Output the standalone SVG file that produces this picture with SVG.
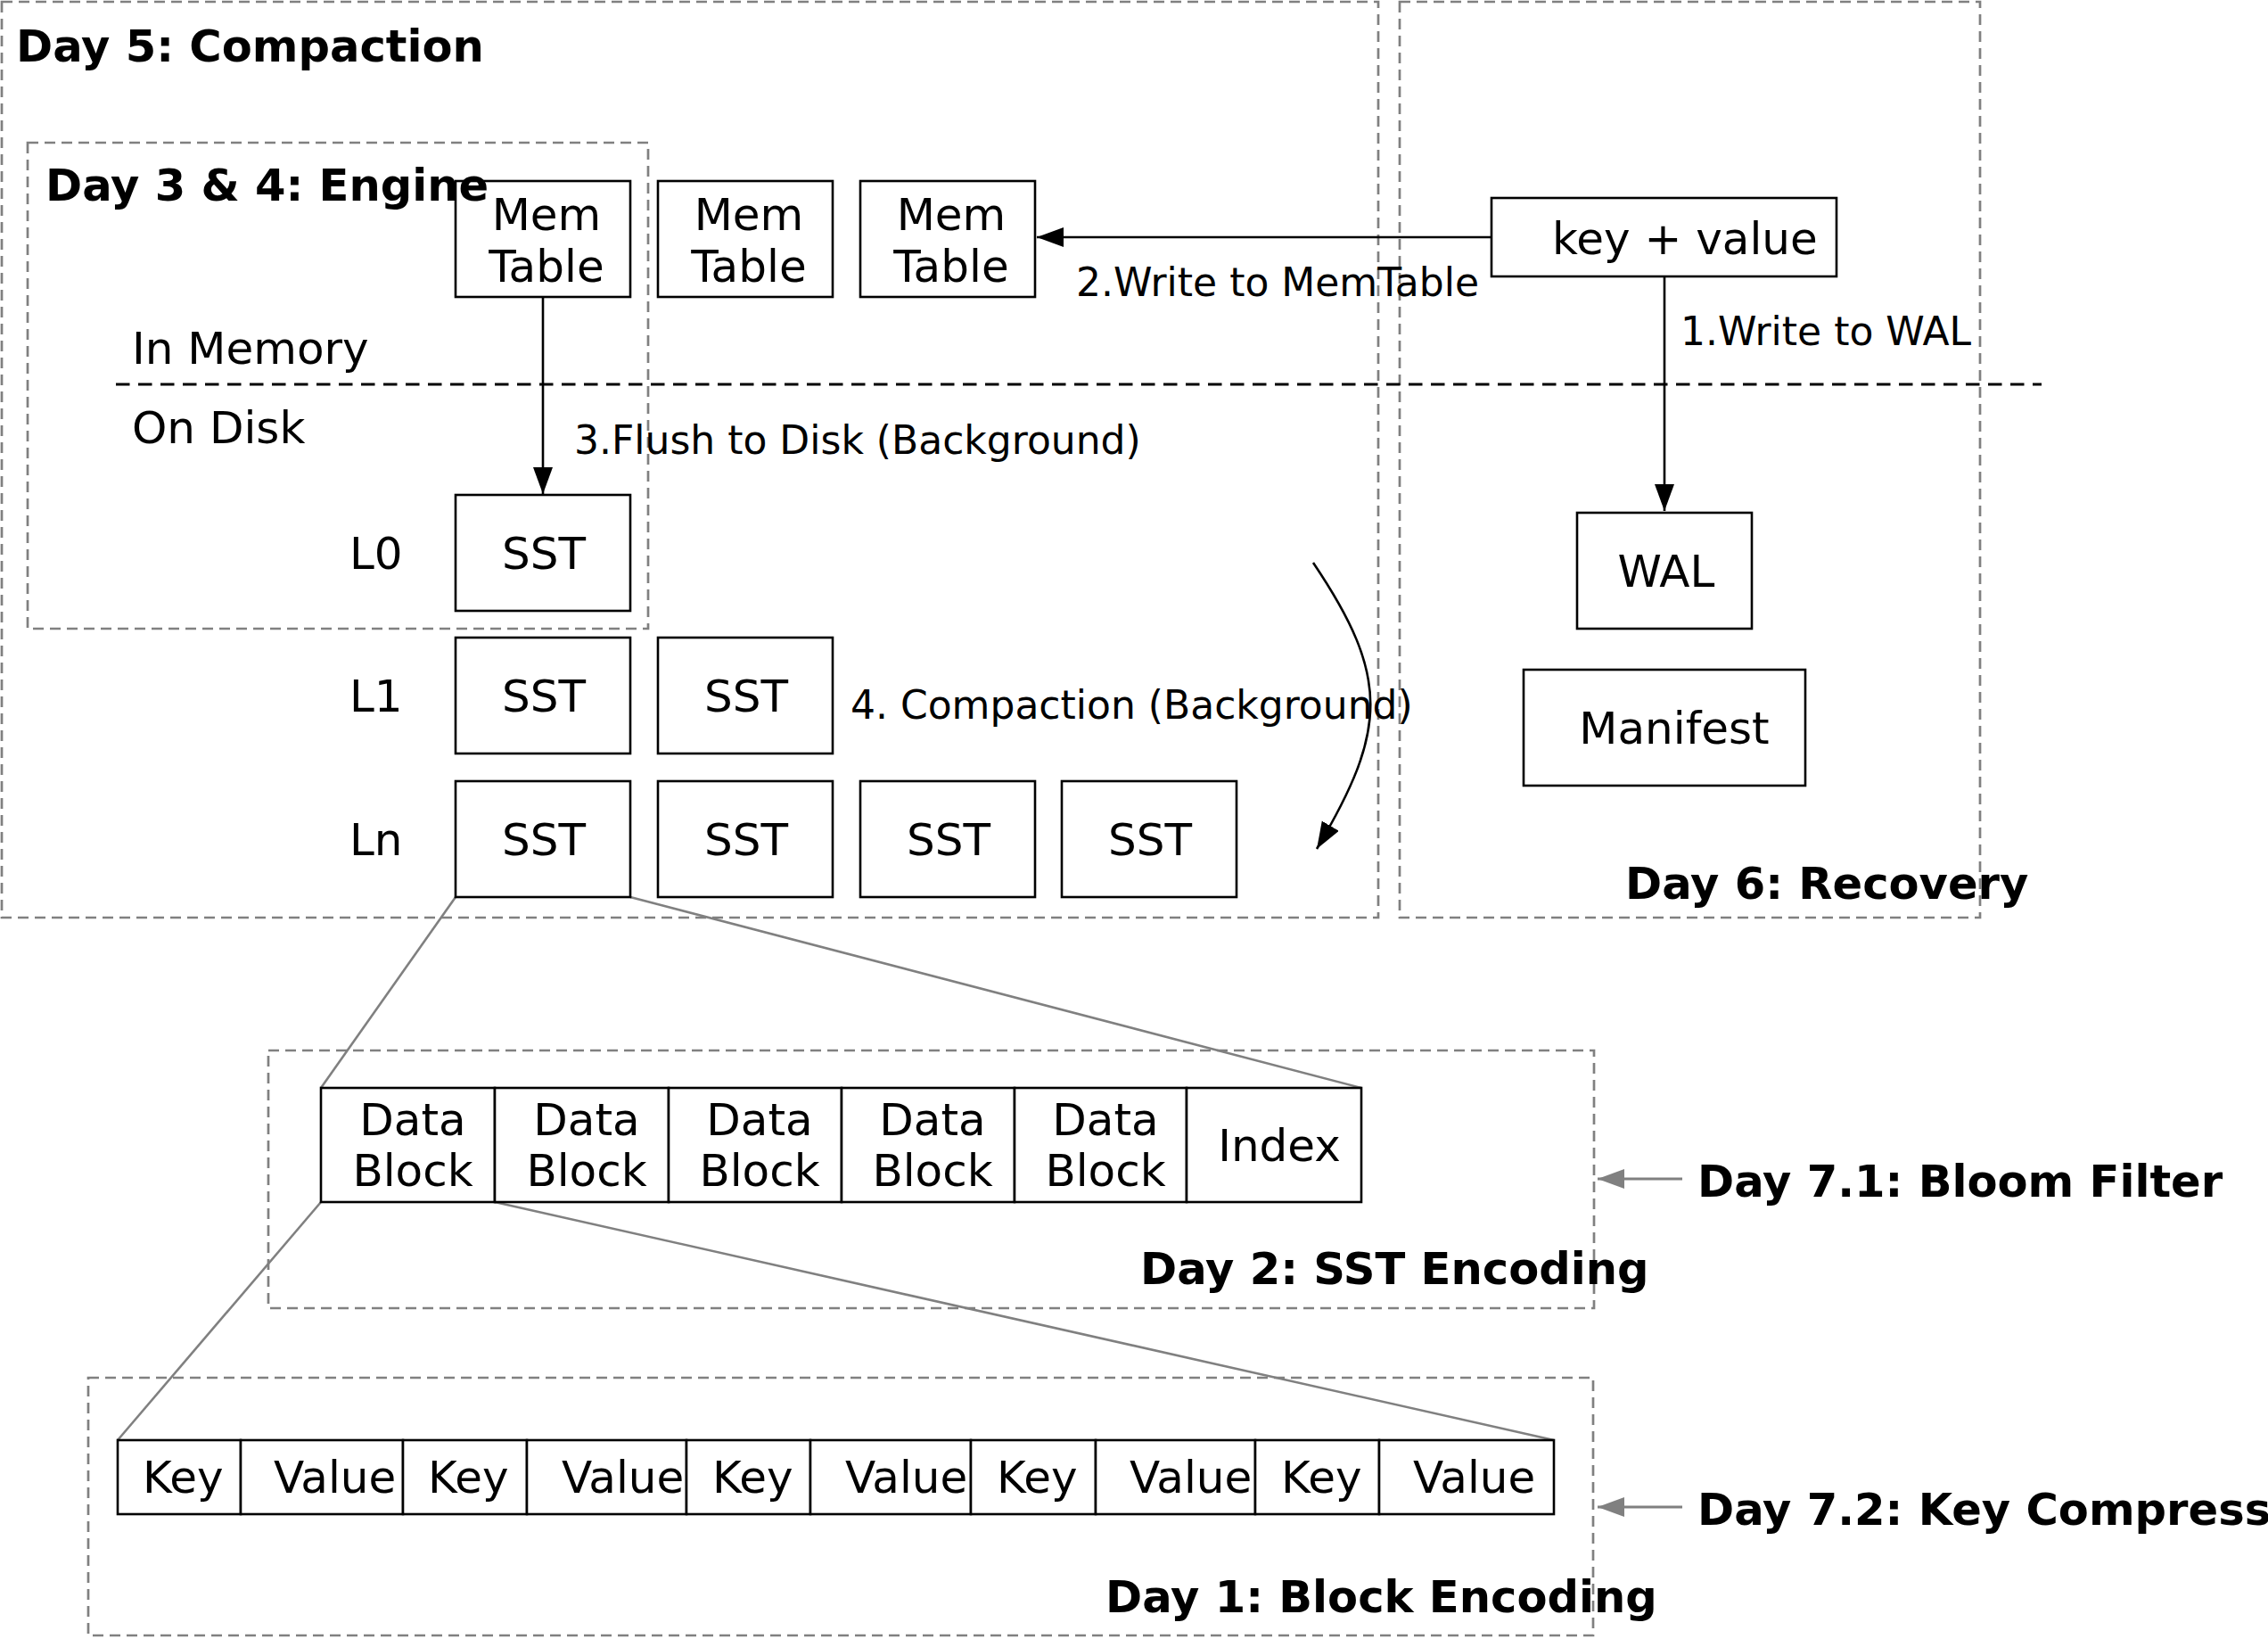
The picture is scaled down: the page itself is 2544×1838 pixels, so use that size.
<svg xmlns="http://www.w3.org/2000/svg" width="2544" height="1838" viewBox="0 0 2544 1838">
<style>
text{font-family:"DejaVu Sans","Liberation Sans",sans-serif;fill:#000}
.t{font-size:50px}
.lbl{font-size:44px}
.b{font-size:49.6px;font-weight:bold}
.c{text-anchor:middle}
.box{fill:#fff;stroke:#000;stroke-width:2.6}
.grp{fill:none;stroke:#808080;stroke-width:2.7;stroke-dasharray:12 7}
.div{fill:none;stroke:#000;stroke-width:3.2;stroke-dasharray:15.5 9.5}
.edge{fill:none;stroke:#000;stroke-width:2.6}
.zoom{fill:none;stroke:#808080;stroke-width:2.6}
.gedge{fill:none;stroke:#808080;stroke-width:3}
</style>
<defs>
<marker id="ah" markerUnits="userSpaceOnUse" markerWidth="32" markerHeight="24" refX="30" refY="11" orient="auto">
<path d="M0,0 L30,11 L0,22 z" fill="#000"/>
</marker>
<marker id="gah" markerUnits="userSpaceOnUse" markerWidth="32" markerHeight="24" refX="30" refY="11" orient="auto">
<path d="M0,0 L30,11 L0,22 z" fill="#808080"/>
</marker>
</defs>
<rect width="2544" height="1838" fill="#fff"/>

<g id="groups">
<rect id="day5" class="grp" x="2" y="2" width="1544" height="1027"/>
<rect id="day6" class="grp" x="1570" y="2" width="651" height="1027"/>
<rect id="day34" class="grp" x="31" y="160" width="696" height="545"/>
<rect id="day2" class="grp" x="301" y="1178" width="1487" height="289"/>
<rect id="day1" class="grp" x="99" y="1545" width="1688" height="289"/>
</g>

<g id="zoomlines">
<line class="zoom" x1="511" y1="1006" x2="360" y2="1220"/>
<line class="zoom" x1="707" y1="1006" x2="1527" y2="1220"/>
<line class="zoom" x1="360" y1="1348" x2="132" y2="1615"/>
<line class="zoom" x1="555" y1="1348" x2="1743" y2="1615"/>
</g>

<line id="divider" class="div" x1="130" y1="431" x2="2290" y2="431"/>

<g id="memtable1"><rect class="box" x="511" y="203" width="196" height="130"/><text class="t c" x="613" y="258">Mem</text><text class="t c" x="613" y="316">Table</text></g>
<g id="memtable2"><rect class="box" x="738" y="203" width="196" height="130"/><text class="t c" x="840" y="258">Mem</text><text class="t c" x="840" y="316">Table</text></g>
<g id="memtable3"><rect class="box" x="965" y="203" width="196" height="130"/><text class="t c" x="1067" y="258">Mem</text><text class="t c" x="1067" y="316">Table</text></g>

<g id="kv"><rect class="box" x="1673" y="222" width="387" height="88"/><text class="t" x="1741" y="285">key + value</text></g>
<g id="wal"><rect class="box" x="1769" y="575" width="196" height="130"/><text class="t c" x="1869" y="658">WAL</text></g>
<g id="manifest"><rect class="box" x="1709" y="751" width="316" height="130"/><text class="t c" x="1878" y="834">Manifest</text></g>

<g id="sst-l0-1"><rect class="box" x="511" y="555" width="196" height="130"/><text class="t c" x="610" y="638">SST</text></g>
<g id="sst-l1-1"><rect class="box" x="511" y="715" width="196" height="130"/><text class="t c" x="610" y="798">SST</text></g>
<g id="sst-l1-2"><rect class="box" x="738" y="715" width="196" height="130"/><text class="t c" x="837" y="798">SST</text></g>
<g id="sst-ln-1"><rect class="box" x="511" y="876" width="196" height="130"/><text class="t c" x="610" y="959">SST</text></g>
<g id="sst-ln-2"><rect class="box" x="738" y="876" width="196" height="130"/><text class="t c" x="837" y="959">SST</text></g>
<g id="sst-ln-3"><rect class="box" x="965" y="876" width="196" height="130"/><text class="t c" x="1064" y="959">SST</text></g>
<g id="sst-ln-4"><rect class="box" x="1191" y="876" width="196" height="130"/><text class="t c" x="1290" y="959">SST</text></g>

<g id="sst-blocks">
<g id="db1"><rect class="box" x="360" y="1220" width="195" height="128"/><text class="t c" x="463" y="1273">Data</text><text class="t c" x="463" y="1330">Block</text></g>
<g id="db2"><rect class="box" x="555" y="1220" width="195" height="128"/><text class="t c" x="658" y="1273">Data</text><text class="t c" x="658" y="1330">Block</text></g>
<g id="db3"><rect class="box" x="750" y="1220" width="194" height="128"/><text class="t c" x="852" y="1273">Data</text><text class="t c" x="852" y="1330">Block</text></g>
<g id="db4"><rect class="box" x="944" y="1220" width="194" height="128"/><text class="t c" x="1046" y="1273">Data</text><text class="t c" x="1046" y="1330">Block</text></g>
<g id="db5"><rect class="box" x="1138" y="1220" width="193" height="128"/><text class="t c" x="1240" y="1273">Data</text><text class="t c" x="1240" y="1330">Block</text></g>
<g id="index"><rect class="box" x="1331" y="1220" width="196" height="128"/><text class="t c" x="1435" y="1302">Index</text></g>
</g>

<g id="kv-entries">
<g id="k1"><rect class="box" x="132" y="1615" width="138" height="83"/><text class="t" x="160" y="1674">Key</text></g>
<g id="v1"><rect class="box" x="270" y="1615" width="182" height="83"/><text class="t" x="307" y="1674">Value</text></g>
<g id="k2"><rect class="box" x="452" y="1615" width="139" height="83"/><text class="t" x="480" y="1674">Key</text></g>
<g id="v2"><rect class="box" x="591" y="1615" width="179" height="83"/><text class="t" x="630" y="1674">Value</text></g>
<g id="k3"><rect class="box" x="770" y="1615" width="139" height="83"/><text class="t" x="799" y="1674">Key</text></g>
<g id="v3"><rect class="box" x="909" y="1615" width="180" height="83"/><text class="t" x="948" y="1674">Value</text></g>
<g id="k4"><rect class="box" x="1089" y="1615" width="140" height="83"/><text class="t" x="1118" y="1674">Key</text></g>
<g id="v4"><rect class="box" x="1229" y="1615" width="179" height="83"/><text class="t" x="1267" y="1674">Value</text></g>
<g id="k5"><rect class="box" x="1408" y="1615" width="139" height="83"/><text class="t" x="1437" y="1674">Key</text></g>
<g id="v5"><rect class="box" x="1547" y="1615" width="196" height="83"/><text class="t" x="1585" y="1674">Value</text></g>
</g>

<g id="titles">
<text class="b" x="18" y="69">Day 5: Compaction</text>
<text class="b" x="51" y="225">Day 3 &amp; 4: Engine</text>
<text class="b" x="1823" y="1008">Day 6: Recovery</text>
<text class="b" x="1279" y="1440">Day 2: SST Encoding</text>
<text class="b" x="1240" y="1808">Day 1: Block Encoding</text>
<text class="b" x="1904" y="1342">Day 7.1: Bloom Filter</text>
<text class="b" x="1904" y="1710">Day 7.2: Key Compress</text>
<text class="t" x="148" y="408">In Memory</text>
<text class="t" x="148" y="497">On Disk</text>
<text class="t" x="392" y="638">L0</text>
<text class="t" x="392" y="798">L1</text>
<text class="t" x="392" y="959">Ln</text>
</g>

<g id="connectors">
<path class="edge" d="M1673,266 L1163,266" marker-end="url(#ah)"/>
<path class="edge" d="M1867,310 L1867,573" marker-end="url(#ah)"/>
<path class="edge" d="M609,333 L609,554" marker-end="url(#ah)"/>
<path class="edge" d="M1473,631 C1560,760 1556,819 1477,952" marker-end="url(#ah)"/>
<path class="gedge" d="M1887,1322 L1792,1322" marker-end="url(#gah)"/>
<path class="gedge" d="M1887,1690 L1792,1690" marker-end="url(#gah)"/>
<text class="lbl" x="1207" y="332">2.Write to MemTable</text>
<text class="lbl" x="1885" y="387">1.Write to WAL</text>
<text class="lbl" x="644" y="509">3.Flush to Disk (Background)</text>
<text class="lbl" x="954" y="806">4. Compaction (Background)</text>
</g>
</svg>
